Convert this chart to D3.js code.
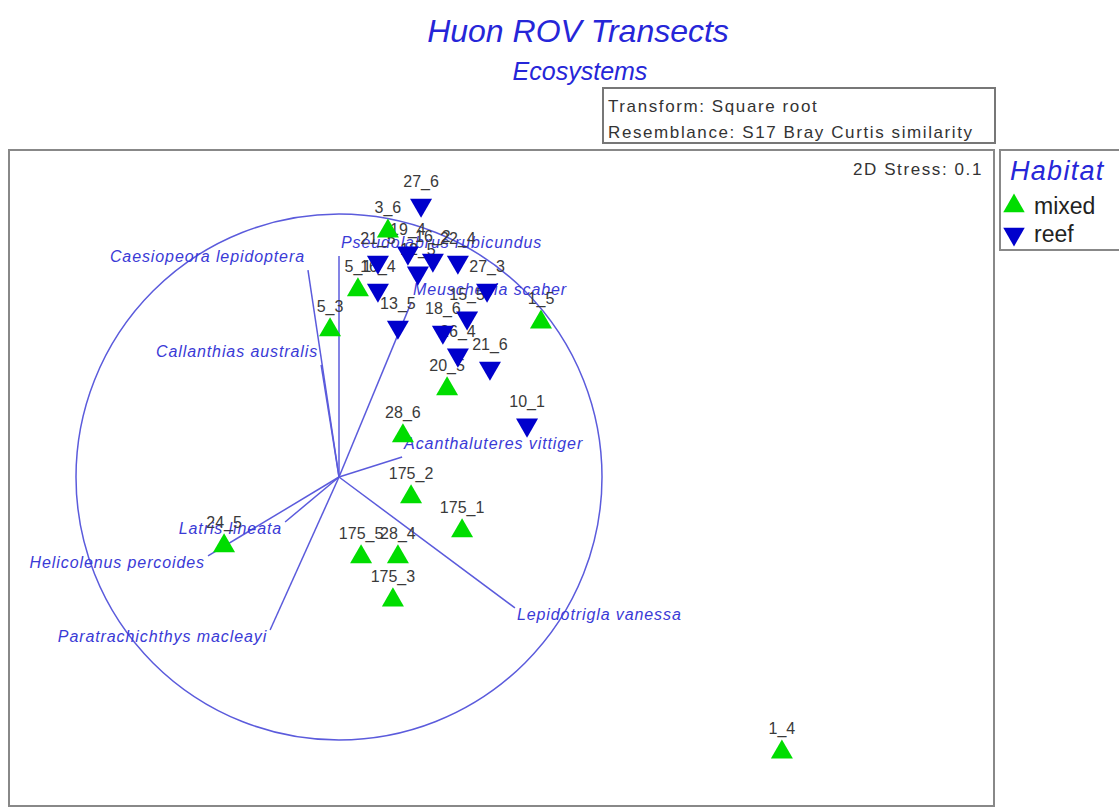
<!DOCTYPE html>
<html>
<head>
<meta charset="utf-8">
<script src="https://cdn.jsdelivr.net/npm/d3@7"></script>
<style>
  body { margin: 0; background: #fff; }
  svg { display: block; font-family: "Liberation Sans", Arial, sans-serif; }
</style>
</head>
<body>
<svg id="chart" width="1119" height="808"></svg>
<script>
// Sample names and MDS coordinates (correlation circle radius = 1)
const mixedNames = ["3_6", "5_1", "5_3", "1_5", "20_5", "28_6", "175_2", "175_1", "175_5", "28_4", "175_3", "24_5", "1_4"];
const mixedX = [0.186, 0.072, -0.034, 0.768, 0.411, 0.243, 0.274, 0.468, 0.084, 0.224, 0.205, -0.437, 1.684];
const mixedY = [0.935, 0.711, 0.559, 0.589, 0.335, 0.156, -0.076, -0.205, -0.304, -0.304, -0.468, -0.262, -1.046];

const reefNames = ["27_6", "21_5", "19_4", "16_2", "22_4", "12_5", "16_4", "27_3", "13_5", "15_5", "18_6", "26_4", "21_6", "10_1"];
const reefX = [0.312, 0.148, 0.262, 0.357, 0.452, 0.300, 0.148, 0.563, 0.224, 0.487, 0.395, 0.452, 0.574, 0.715];
const reefY = [1.034, 0.817, 0.852, 0.825, 0.817, 0.776, 0.711, 0.711, 0.570, 0.605, 0.551, 0.464, 0.414, 0.198];

// Species vectors (Pearson correlations)
const species = ["Caesiopeora lepidoptera", "Callanthias australis", "Pseudolabrus rubicundus", "Meuschenia scaber",
  "Acanthaluteres vittiger", "Latris lineata", "Helicolenus percoides", "Paratrachichthys macleayi", "Lepidotrigla vanessa"];
const vecX = [-0.118, -0.068, 0.000, 0.274, 0.240, -0.205, -0.498, -0.262, 0.669];
const vecY = [0.787, 0.426, 0.840, 0.662, 0.076, -0.171, -0.300, -0.582, -0.498];

const groups = ["mixed", "reef"];

const svg = d3.select("#chart");
const blueText = "#3a3ad6";
const vecColor = "#5b5bdc";

// scales: one unit = circle radius
const x = d3.scaleLinear().domain([-1, 1]).range([76, 602]);
const y = d3.scaleLinear().domain([-1, 1]).range([740, 214]);

const color = d3.scaleOrdinal().domain(groups).range(["#00dd00", "#0000cc"]);
const tri = d3.symbol().type(d3.symbolTriangle).size(210);
const triLegend = d3.symbol().type(d3.symbolTriangle).size(200);

// titles
svg.append("text")
  .attr("x", 578).attr("y", 42)
  .attr("text-anchor", "middle")
  .attr("font-size", 32).attr("font-style", "italic")
  .attr("fill", "#2626d8")
  .text("Huon ROV Transects");
svg.append("text")
  .attr("x", 580).attr("y", 80)
  .attr("text-anchor", "middle")
  .attr("font-size", 25).attr("font-style", "italic")
  .attr("fill", "#2626d8")
  .text("Ecosystems");

// transform box
svg.append("rect")
  .attr("x", 603).attr("y", 88).attr("width", 392).attr("height", 55)
  .attr("fill", "none").attr("stroke", "#777").attr("stroke-width", 2);
svg.append("text").attr("x", 608).attr("y", 112)
  .attr("font-size", 17).attr("letter-spacing", 1.6).attr("fill", "#333")
  .text("Transform: Square root");
svg.append("text").attr("x", 608).attr("y", 138)
  .attr("font-size", 17).attr("letter-spacing", 1.6).attr("fill", "#333")
  .text("Resemblance: S17 Bray Curtis similarity");

// plot frame
svg.append("rect")
  .attr("x", 9).attr("y", 150).attr("width", 985).attr("height", 656)
  .attr("fill", "none").attr("stroke", "#888").attr("stroke-width", 2);
svg.append("text").attr("x", 983).attr("y", 175)
  .attr("text-anchor", "end")
  .attr("font-size", 17).attr("letter-spacing", 1.6).attr("fill", "#333")
  .text("2D Stress: 0.1");

// correlation circle
svg.append("circle")
  .attr("cx", x(0)).attr("cy", y(0)).attr("r", x(1) - x(0))
  .attr("fill", "none").attr("stroke", vecColor).attr("stroke-width", 1.5);

// species vectors
const vectors = species.map((name, i) => ({ name, vx: vecX[i], vy: vecY[i] }));
svg.append("g").selectAll("line")
  .data(vectors)
  .join("line")
  .attr("x1", x(0)).attr("y1", y(0))
  .attr("x2", d => x(d.vx)).attr("y2", d => y(d.vy))
  .attr("stroke", vecColor).attr("stroke-width", 1.5);

svg.append("g").selectAll("text")
  .data(vectors)
  .join("text")
  .attr("x", d => x(d.vx) + (d.vx < 0 ? -3 : 2))
  .attr("y", d => y(d.vy) + (d.vy > 0 ? -8 : 12))
  .attr("text-anchor", d => d.vx < 0 ? "end" : "start")
  .attr("font-size", 16).attr("font-style", "italic").attr("letter-spacing", 0.9)
  .attr("fill", blueText)
  .text(d => d.name);

// samples
const samples = [
  ...mixedNames.map((n, i) => ({ name: n, group: "mixed", sx: mixedX[i], sy: mixedY[i] })),
  ...reefNames.map((n, i) => ({ name: n, group: "reef", sx: reefX[i], sy: reefY[i] }))
];

svg.append("g").selectAll("text")
  .data(samples)
  .join("text")
  .attr("x", d => x(d.sx)).attr("y", d => y(d.sy) - 18)
  .attr("text-anchor", "middle")
  .attr("font-size", 16).attr("fill", "#3a3a3a")
  .text(d => d.name);

svg.append("g").selectAll("path")
  .data(samples)
  .join("path")
  .attr("d", tri)
  .attr("transform", d => `translate(${x(d.sx)},${y(d.sy)})` + (d.group === "reef" ? " rotate(180)" : ""))
  .attr("fill", d => color(d.group));

// legend
const legend = svg.append("g");
legend.append("rect")
  .attr("x", 1000).attr("y", 150).attr("width", 130).attr("height", 100)
  .attr("fill", "none").attr("stroke", "#888").attr("stroke-width", 2);
legend.append("text").attr("x", 1010).attr("y", 180)
  .attr("font-size", 27).attr("font-style", "italic").attr("letter-spacing", 1.3)
  .attr("fill", "#2626d8")
  .text("Habitat");
groups.forEach((g, i) => {
  const ly = 206 + i * 28;
  legend.append("path")
    .attr("d", triLegend)
    .attr("transform", `translate(1014,${ly})` + (g === "reef" ? " rotate(180)" : ""))
    .attr("fill", color(g));
  legend.append("text").attr("x", 1034).attr("y", ly + 8)
    .attr("font-size", 23).attr("fill", "#222")
    .text(g);
});
</script>
</body>
</html>
